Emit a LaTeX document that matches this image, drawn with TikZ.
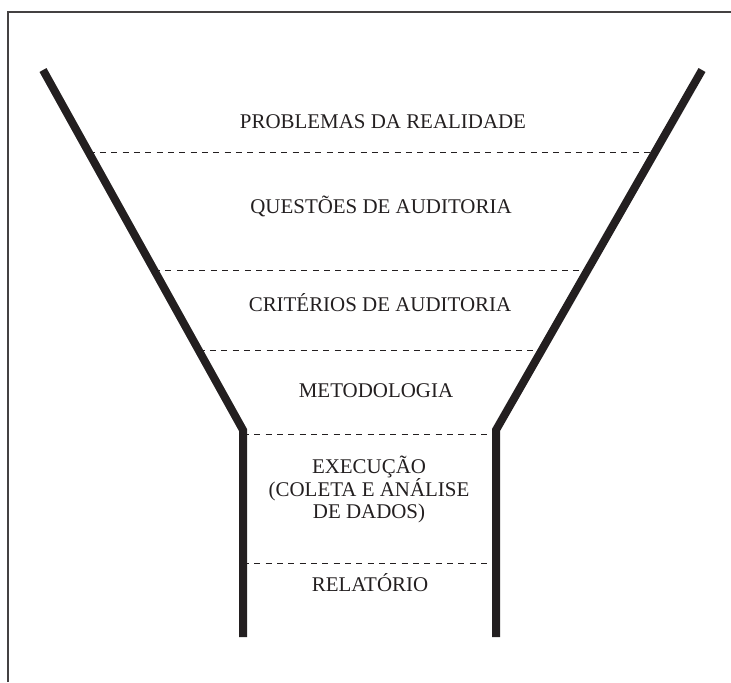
\documentclass[tikz,border=0pt]{standalone}
\usepackage{fontspec}
\setmainfont{Liberation Serif}
\usetikzlibrary{calc}
\definecolor{tinta}{HTML}{231F20}

\begin{document}
\begin{tikzpicture}[x=0.75pt,y=-0.75pt,
    funil/.style={draw=tinta,line width=6pt},
    divisa/.style={draw=tinta,line width=0.6pt,dash pattern=on 4.5pt off 4pt},
    etapa/.style={text=tinta,font=\fontsize{15.7}{15.9}\selectfont,align=center,anchor=base}]
    \useasboundingbox (0,0) rectangle (731,682);

    % Moldura
    \draw[tinta!85,line width=1.1pt] (8,682) -- (8,12) -- (731,12);

    % Pontos do funil
    \coordinate (esqTopo) at (43,70);
    \coordinate (esqDobra) at (243,430);
    \coordinate (esqBase) at (243,637);
    \coordinate (dirTopo) at (702,70);
    \coordinate (dirDobra) at (496,430);
    \coordinate (dirBase) at (496,637);

    % Linhas tracejadas entre as etapas
    \foreach \f in {0.2278,0.5556,0.7778} {
        \draw[divisa] ($(esqTopo)!\f!(esqDobra)$) -- ($(dirTopo)!\f!(dirDobra)$);
    }
    \foreach \y in {434,563} {
        \draw[divisa] (esqBase |- 0,\y) -- (dirBase |- 0,\y);
    }

    % Paredes do funil
    \draw[funil] (esqTopo) -- (esqDobra) -- (esqBase);
    \draw[funil] (dirTopo) -- (dirDobra) -- (dirBase);

    % Etapas
    \node[etapa] (problemas) at (383,128) {PROBLEMAS DA REALIDADE};
    \node[etapa] (questoes) at (381,213) {QUESTÕES DE AUDITORIA};
    \node[etapa] (criterios) at (380,311) {CRITÉRIOS DE AUDITORIA};
    \node[etapa] (metodologia) at (376,397) {METODOLOGIA};
    \node[etapa,anchor=center] (execucao) at (369,489) {EXECUÇÃO\\(COLETA E ANÁLISE\\DE DADOS)};
    \node[etapa] (relatorio) at (370,591) {RELATÓRIO};

\end{tikzpicture}
\end{document}
